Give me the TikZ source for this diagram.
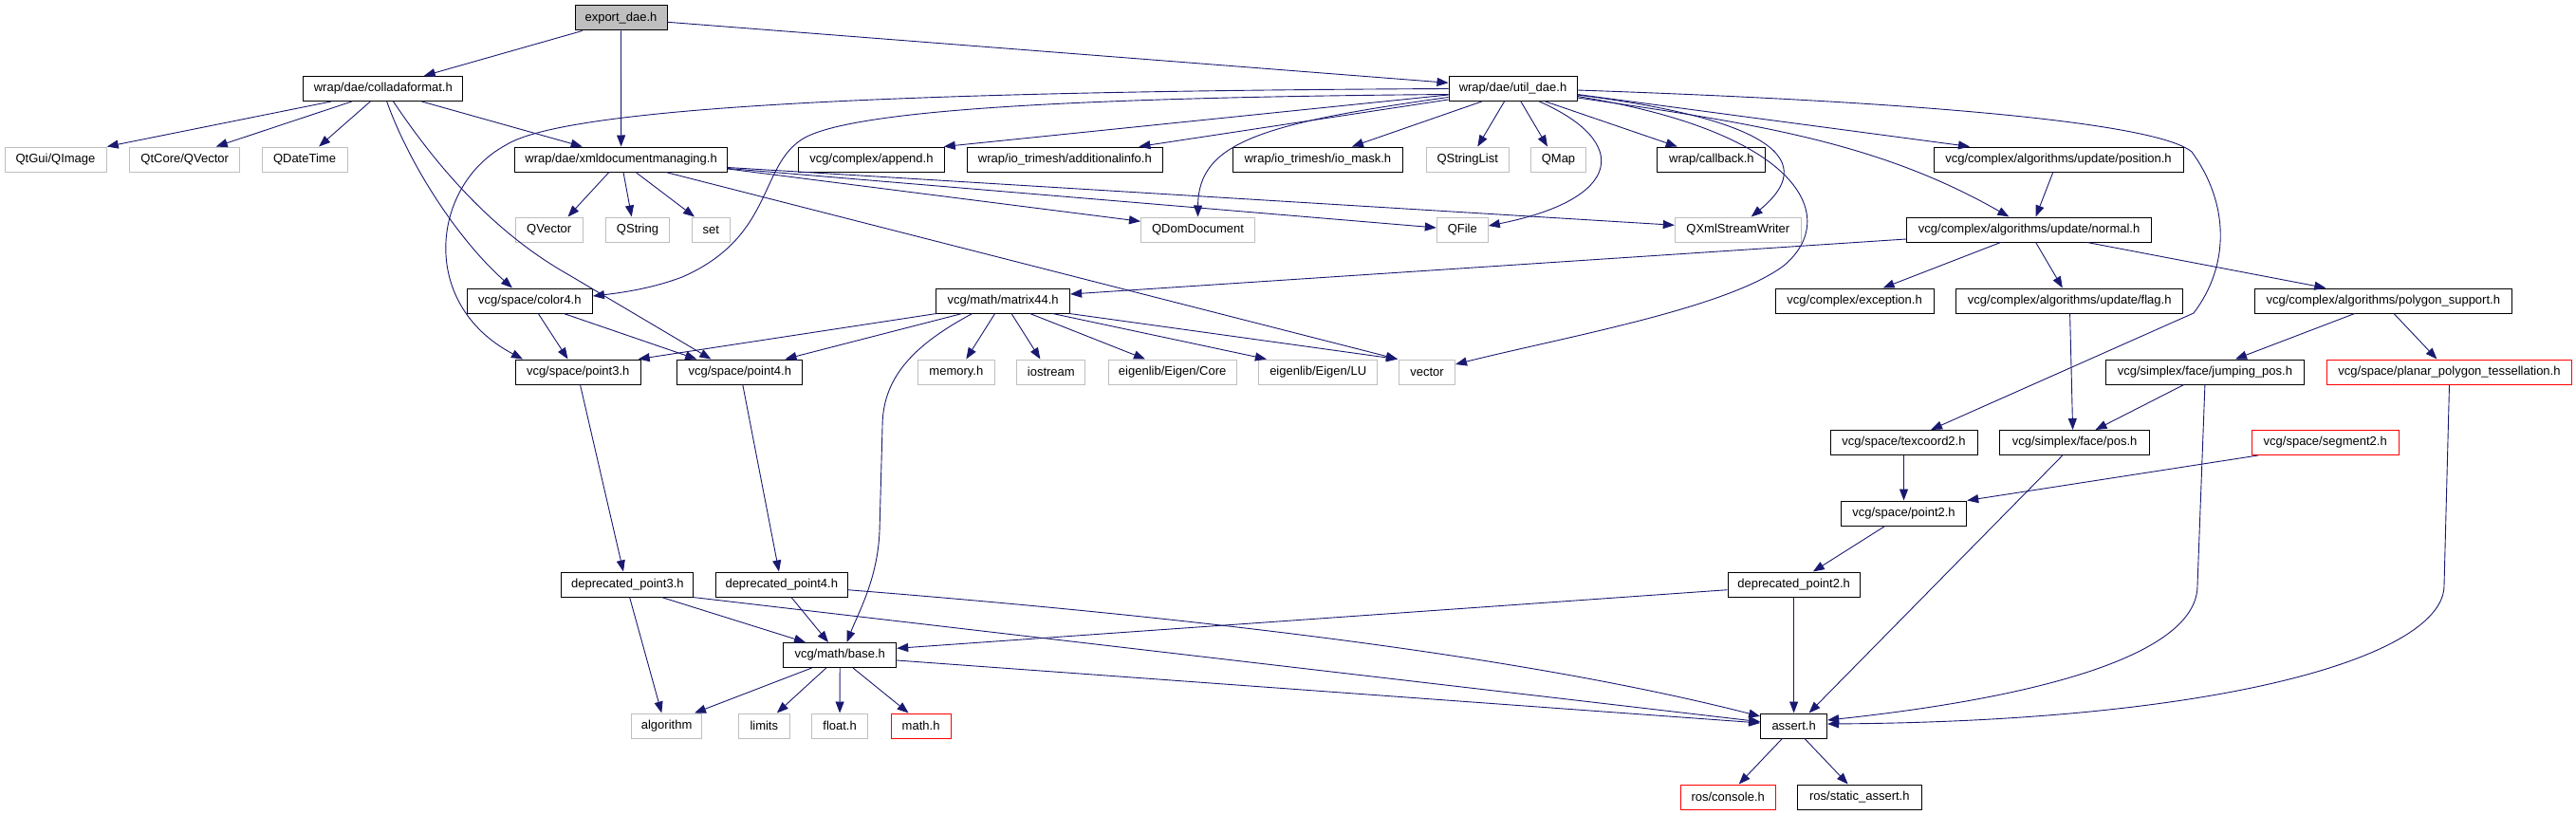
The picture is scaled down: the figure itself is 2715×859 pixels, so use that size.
\documentclass[tikz,border=0pt]{standalone}
\usepackage{fontspec}
\setmainfont{Liberation Sans}
\usetikzlibrary{arrows.meta}
\definecolor{edgeblue}{HTML}{191970}
\definecolor{extgray}{HTML}{BFBFBF}
\definecolor{missred}{HTML}{FF0000}
\begin{document}
\begin{tikzpicture}[x=1pt,y=-1pt,
  box/.style={draw, fill=white, minimum height=26pt, inner sep=0pt, font=\fontsize{13}{15}\selectfont, line width=1pt},
  doc/.style={box, draw=black},
  ext/.style={box, draw=extgray, line width=1pt},
  miss/.style={box, draw=missred, line width=1pt},
  edge/.style={draw=edgeblue, line width=0.9pt, -{Triangle[length=12pt,width=9pt]}}]
\useasboundingbox (0,0) rectangle (2715,859);
% row 0
\node[doc,fill=extgray,minimum width=97pt] (exp) at (654.5,19) {export\_dae.h};
% row 1
\node[doc,minimum width=168pt] (col) at (403.8,93.5) {wrap/dae/colladaformat.h};
\node[doc,minimum width=135pt] (util) at (1594.5,93.5) {wrap/dae/util\_dae.h};
% row 2
\node[ext,minimum width=107pt] (qimage) at (58.5,168) {QtGui/QImage};
\node[ext,minimum width=116pt] (qcvec) at (194.7,168) {QtCore/QVector};
\node[ext,minimum width=90pt] (qdt) at (321,168) {QDateTime};
\node[doc,minimum width=224pt] (xml) at (654.6,168) {wrap/dae/xmldocumentmanaging.h};
\node[doc,minimum width=153.5pt] (append) at (918.5,168) {vcg/complex/append.h};
\node[doc,minimum width=205.6pt] (addinfo) at (1122.4,168) {wrap/io\_trimesh/additionalinfo.h};
\node[doc,minimum width=179pt] (iomask) at (1388.9,168) {wrap/io\_trimesh/io\_mask.h};
\node[ext,minimum width=87pt] (qsl) at (1546.7,168) {QStringList};
\node[ext,minimum width=58pt] (qmap) at (1642.5,168) {QMap};
\node[doc,minimum width=114pt] (cb) at (1803.9,168) {wrap/callback.h};
\node[doc,minimum width=263pt] (pos) at (2169.5,168) {vcg/complex/algorithms/update/position.h};
% row 3
\node[ext,minimum width=71pt] (qvec) at (578.7,242) {QVector};
\node[ext,minimum width=67pt] (qstr) at (672,242) {QString};
\node[ext,minimum width=40pt] (sset) at (749.2,242) {set};
\node[ext,minimum width=120pt] (qdom) at (1262.5,242) {QDomDocument};
\node[ext,minimum width=54pt] (qfile) at (1541.3,242) {QFile};
\node[ext,minimum width=133pt] (qxml) at (1831.8,242) {QXmlStreamWriter};
\node[doc,minimum width=258pt] (normal) at (2138.6,242) {vcg/complex/algorithms/update/normal.h};
% row 4
\node[doc,minimum width=132pt] (color4) at (558.4,317) {vcg/space/color4.h};
\node[doc,minimum width=141pt] (m44) at (1057.1,317) {vcg/math/matrix44.h};
\node[doc,minimum width=167pt] (exc) at (1954.6,317) {vcg/complex/exception.h};
\node[doc,minimum width=238.5pt] (flag) at (2181.2,317) {vcg/complex/algorithms/update/flag.h};
\node[doc,minimum width=271pt] (polysup) at (2511.8,317) {vcg/complex/algorithms/polygon\_support.h};
% row 5
\node[doc,minimum width=132pt] (p3) at (609.2,392) {vcg/space/point3.h};
\node[doc,minimum width=132pt] (p4) at (779.8,392) {vcg/space/point4.h};
\node[ext,minimum width=81pt] (mem) at (1007.9,392) {memory.h};
\node[ext,minimum width=72pt] (ios) at (1107.8,392) {iostream};
\node[ext,minimum width=135pt] (ecore) at (1235.7,392) {eigenlib/Eigen/Core};
\node[ext,minimum width=124.5pt] (elu) at (1389.2,392) {eigenlib/Eigen/LU};
\node[ext,minimum width=59pt] (vector) at (1504,392) {vector};
\node[doc,minimum width=209pt] (jpos) at (2323.9,392) {vcg/simplex/face/jumping\_pos.h};
\node[miss,minimum width=258pt] (planar) at (2581.5,392) {vcg/space/planar\_polygon\_tessellation.h};
% row 6
\node[doc,minimum width=155pt] (tex2) at (2006.5,466.5) {vcg/space/texcoord2.h};
\node[doc,minimum width=157.4pt] (fpos) at (2186.6,466.5) {vcg/simplex/face/pos.h};
\node[miss,minimum width=155pt] (seg2) at (2450.7,466.5) {vcg/space/segment2.h};
% row 7
\node[doc,minimum width=132.4pt] (p2) at (2006.5,541) {vcg/space/point2.h};
% row 8
\node[doc,minimum width=139pt] (dp3) at (661.4,616) {deprecated\_point3.h};
\node[doc,minimum width=138.4pt] (dp4) at (823.8,616) {deprecated\_point4.h};
\node[doc,minimum width=139pt] (dp2) at (1890.6,616) {deprecated\_point2.h};
% row 9
\node[doc,minimum width=119pt] (base) at (885.2,690.5) {vcg/math/base.h};
% row 10
\node[ext,minimum width=74.6pt] (alg) at (702.6,765) {algorithm};
\node[ext,minimum width=54pt] (lim) at (805.3,765) {limits};
\node[ext,minimum width=59pt] (flt) at (885.1,765) {float.h};
\node[miss,minimum width=63pt] (math) at (970.6,765) {math.h};
\node[doc,minimum width=70pt] (assert) at (1890.6,765) {assert.h};
% row 11
\node[miss,minimum width=100pt] (console) at (1821.2,840) {ros/console.h};
\node[doc,minimum width=131pt] (sassert) at (1959.8,840) {ros/static\_assert.h};

% edges from export_dae.h
\draw[edge] ([xshift=-40.8pt]exp.south) -- ([xshift=42.9pt]col.north);
\draw[edge] (exp.south) -- (xml.north);
\draw[edge] ([yshift=-4.3pt]exp.east) -- ([yshift=6.2pt]util.west);
% colladaformat.h
\draw[edge] ([xshift=-54.8pt]col.south) -- ([xshift=54.3pt]qimage.north);
\draw[edge] ([xshift=-33pt]col.south) -- ([xshift=33pt]qcvec.north);
\draw[edge] ([xshift=-13.5pt]col.south) -- ([xshift=15.1pt]qdt.north);
\draw[edge] ([xshift=40.7pt]col.south) -- ([xshift=-40.9pt]xml.north);
\draw[edge] ([xshift=3.9pt]col.south) .. controls (430,170) and (480,250) .. ([xshift=-18.4pt]color4.north);
\draw[edge] ([xshift=10.8pt]col.south) .. controls (460,175) and (520,245) .. (600,290) -- ([xshift=-30.4pt]p4.north);
% util_dae.h
\draw[edge] (util.west) .. controls (1000,96) and (600,110) .. (533,153) .. controls (455,195) and (440,320) .. ([xshift=-58.2pt]p3.north);
\draw[edge] ([yshift=-6pt]util.west) .. controls (1100,103) and (890,118) .. (845,147) .. controls (800,176) and (815,250) .. (719,292) .. controls (690,303) and (660,308) .. ([yshift=5pt]color4.east);
\draw[edge] ([yshift=-6.5pt]util.west) -- ([xshift=-1pt]append.north east);
\draw[edge] ([yshift=-11.5pt]util.west) -- ([xshift=78pt]addinfo.north);
\draw[edge] ([yshift=-9pt]util.west) .. controls (1330,130) and (1263,150) .. (qdom.north);
\draw[edge] ([xshift=-32.8pt]util.south) -- ([xshift=36pt]iomask.north);
\draw[edge] ([xshift=-9pt]util.south) -- ([xshift=10.6pt]qsl.north);
\draw[edge] ([xshift=8.4pt]util.south) -- ([xshift=-11.5pt]qmap.north);
\draw[edge] ([xshift=27.9pt]util.south) .. controls (1720,150) and (1710,210) .. ([yshift=4pt]qfile.east);
\draw[edge] ([xshift=34.4pt]util.south) -- ([xshift=-36.2pt]cb.north);
\draw[edge] ([yshift=-6.5pt]util.east) .. controls (1900,130) and (1905,180) .. ([xshift=13.9pt]qxml.north);
\draw[edge] ([yshift=-8pt]util.east) .. controls (1900,140) and (1940,230) .. (1880,280) .. controls (1820,325) and (1650,355) .. ([yshift=8pt]vector.east);
\draw[edge] ([yshift=-1.5pt]util.east) .. controls (2100,110) and (2280,135) .. (2310,160) .. controls (2350,215) and (2350,280) .. (2312,330) -- ([xshift=28.5pt]tex2.north);
\draw[edge] ([yshift=-9.5pt]util.east) .. controls (1850,130) and (1980,150) .. ([xshift=-21.2pt]normal.north);
\draw[edge] ([yshift=-6pt]util.east) -- ([xshift=-93.5pt]pos.north);
% position / normal
\draw[edge] ([xshift=-5.7pt]pos.south) -- ([xshift=7pt]normal.north);
\draw[edge] ([yshift=-10pt]normal.west) -- ([yshift=7pt]m44.east);
\draw[edge] ([xshift=-30pt]normal.south) -- ([xshift=30pt]exc.north);
\draw[edge] ([xshift=7pt]normal.south) -- ([xshift=-7.4pt]flag.north);
\draw[edge] ([xshift=61.2pt]normal.south) -- ([xshift=-60.5pt]polysup.north);
% flag / polygon_support
\draw[edge] ([xshift=0.4pt]flag.south) -- ([xshift=-2pt]fpos.north);
\draw[edge] ([xshift=-30.1pt]polysup.south) -- ([xshift=32.1pt]jpos.north);
\draw[edge] ([xshift=11.2pt]polysup.south) -- ([xshift=-13.1pt]planar.north);
% jumping_pos / planar
\draw[edge] ([xshift=-22.2pt]jpos.south) -- ([xshift=21.9pt]fpos.north);
\draw[edge] (jpos.south) -- (2316,617) .. controls (2316,690) and (2150,735) .. ([yshift=6pt]assert.east);
\draw[edge] (planar.south) -- (2576,617) .. controls (2576,690) and (2350,760) .. ([yshift=2pt]assert.east);
\draw[edge] ([xshift=-70.9pt]seg2.south) -- (p2.north east);
\draw[edge] ([xshift=-12.8pt]fpos.south) -- ([xshift=16pt]assert.north);
% point2 chain
\draw[edge] (tex2.south) -- (p2.north);
\draw[edge] ([xshift=-19.8pt]p2.south) -- ([xshift=20.2pt]dp2.north);
\draw[edge] (dp2.south) -- (assert.north);
\draw[edge] ([yshift=-5.7pt]dp2.west) -- ([yshift=7.2pt]base.east);
% assert
\draw[edge] ([xshift=-12.3pt]assert.south) -- ([xshift=11.5pt]console.north);
\draw[edge] ([xshift=11.4pt]assert.south) -- ([xshift=-12.1pt]sassert.north);
% deprecated points
\draw[edge] ([xshift=35.9pt]dp3.south) -- ([xshift=-36.2pt]base.north);
\draw[edge] ([xshift=-1pt]dp3.south east) -- ([yshift=4.3pt]assert.west);
\draw[edge] ([xshift=2.2pt]dp3.south) -- ([xshift=-5.3pt]alg.north);
\draw[edge] ([xshift=10.2pt]dp4.south) -- ([xshift=-12.2pt]base.north);
\draw[edge] ([yshift=-5.7pt]dp4.east) .. controls (1250,650) and (1600,690) .. ([yshift=10pt]assert.west);
% base
\draw[edge] ([xshift=-29.6pt]base.south) -- ([xshift=29.4pt]alg.north);
\draw[edge] ([xshift=-14.4pt]base.south) -- ([xshift=13.5pt]lim.north);
\draw[edge] (base.south) -- (flt.north);
\draw[edge] ([xshift=13.8pt]base.south) -- ([xshift=-13pt]math.north);
\draw[edge] ([yshift=-5.5pt]base.east) -- ([yshift=3pt]assert.west);
% matrix44
\draw[edge] ([xshift=-32.3pt]m44.south) .. controls (960,365) and (930,400) .. (930,450) -- (927,560) .. controls (925,610) and (905,645) .. ([xshift=7.3pt]base.north);
\draw[edge] ([xshift=1pt]m44.south west) -- ([xshift=-3pt]p3.north east);
\draw[edge] ([xshift=-43.1pt]m44.south) -- ([xshift=47.7pt]p4.north);
\draw[edge] ([xshift=-8.5pt]m44.south) -- ([xshift=10.4pt]mem.north);
\draw[edge] ([xshift=8.9pt]m44.south) -- ([xshift=-11.4pt]ios.north);
\draw[edge] ([xshift=28.4pt]m44.south) -- ([xshift=-28.7pt]ecore.north);
\draw[edge] ([xshift=52.3pt]m44.south) -- ([xshift=-54.3pt]elu.north);
\draw[edge] ([xshift=-1pt]m44.south east) -- ([xshift=-1pt]vector.north west);
% xmldocumentmanaging
\draw[edge] ([xshift=47.1pt]xml.south) -- ([xshift=-1pt]vector.north west);
\draw[edge] ([xshift=-12.7pt]xml.south) -- ([xshift=19.8pt]qvec.north);
\draw[edge] ([xshift=2.4pt]xml.south) -- ([xshift=-6.3pt]qstr.north);
\draw[edge] ([xshift=15.4pt]xml.south) -- ([xshift=-17.2pt]sset.north);
\draw[edge] ([yshift=-10pt]xml.east) -- ([yshift=8.7pt]qdom.west);
\draw[edge] ([yshift=-9.5pt]xml.east) -- ([yshift=2pt]qfile.west);
\draw[edge] ([yshift=-8.5pt]xml.east) -- ([yshift=4.7pt]qxml.west);
% color4
\draw[edge] ([xshift=8.9pt]color4.south) -- ([xshift=-10.7pt]p3.north);
\draw[edge] ([xshift=35.8pt]color4.south) -- ([xshift=-45.6pt]p4.north);
% point3 / point4
\draw[edge] ([xshift=2.3pt]p3.south) -- ([xshift=-4.4pt]dp3.north);
\draw[edge] ([xshift=3pt]p4.south) -- ([xshift=-2.8pt]dp4.north);
\end{tikzpicture}
\end{document}
